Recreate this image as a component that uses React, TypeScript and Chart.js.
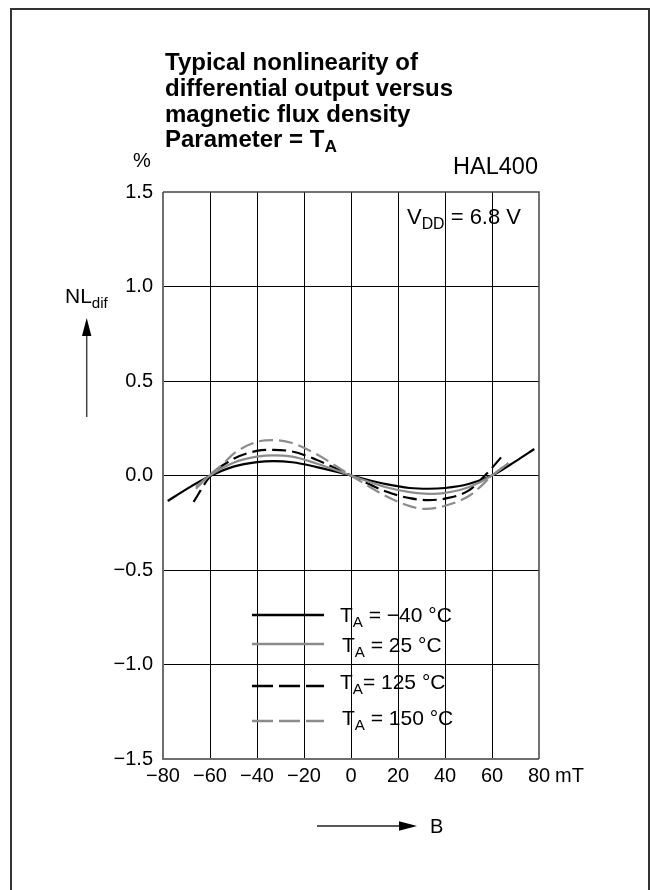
import React, { useEffect, useRef } from 'react';
import { Chart, registerables } from 'chart.js';

Chart.register(...registerables);

const FONT = '"Liberation Sans", Arial, Helvetica, sans-serif';

// ---- data ----
const X_MIN = -80;
const X_MAX = 80;
const X_STEP = 20;
const Y_MIN = -1.5;
const Y_MAX = 1.5;
const Y_STEP = 0.5;

const B_M40 = [-78, -70, -60, -50, -40, -33, -25, -15, 0, 15, 25, 33, 40, 50, 60, 70, 78];
const NL_M40 = [-0.135, -0.072, -0.003, 0.047, 0.071, 0.076, 0.07, 0.046, 0, -0.046, -0.066, -0.07, -0.066, -0.045, 0.0, 0.075, 0.14];

const B_25 = [-66, -60, -50, -40, -33, -25, -15, 0, 15, 25, 33, 40, 50, 60, 67];
const NL_25 = [-0.06, 0.0, 0.068, 0.1, 0.107, 0.1, 0.065, 0, -0.062, -0.088, -0.097, -0.092, -0.062, 0.0, 0.066];

const B_125 = [-67, -60, -50, -40, -33, -25, -15, 0, 15, 25, 33, 40, 50, 57, 60, 65.5];
const NL_125 = [-0.14, -0.005, 0.088, 0.13, 0.136, 0.127, 0.085, 0, -0.085, -0.12, -0.13, -0.122, -0.08, 0.0, 0.04, 0.12];

const B_150 = [-66, -60, -55, -50, -40, -33, -25, -15, 0, 15, 25, 32, 40, 50, 55, 60, 67];
const NL_150 = [-0.07, 0.005, 0.055, 0.115, 0.178, 0.187, 0.172, 0.115, 0, -0.11, -0.162, -0.177, -0.16, -0.11, -0.06, 0.0, 0.066];

const SERIES_LABELS = ['T_A = −40 °C', 'T_A = 25 °C', 'T_A= 125 °C', 'T_A = 150 °C'];

const BLACK = '#000000';
const GRAY = '#8c8c8c';

const toPts = (xs: number[], ys: number[]) => xs.map((x, i) => ({ x, y: ys[i] }));
const minus = (s: string) => s.replace('-', '\u2212');

type TxtProps = {
  x?: number;
  right?: number;
  baseline: number;
  size: number;
  bold?: boolean;
  children: React.ReactNode;
};

const Txt = ({ x, right, baseline, size, bold, children }: TxtProps) => {
  const style: React.CSSProperties = {
    position: 'absolute',
    top: baseline - 0.8465 * size,
    fontFamily: FONT,
    fontSize: size,
    fontWeight: bold ? 'bold' : 'normal',
    lineHeight: 1,
    whiteSpace: 'nowrap',
    color: '#000',
  };
  if (x !== undefined) style.left = x;
  if (right !== undefined) {
    style.right = 650 - right;
    style.textAlign = 'right';
  }
  return <div style={style}>{children}</div>;
};

const Sub = ({ children }: { children: React.ReactNode }) => (
  <span style={{ fontSize: '0.72em', verticalAlign: '-0.3em', lineHeight: 0 }}>{children}</span>
);

const decorations = {
  id: 'decorations',
  beforeDatasetsDraw(chart: any) {
    const { ctx, chartArea } = chart;
    const { left, right, top, bottom } = chartArea;
    ctx.save();
    // plot frame
    ctx.strokeStyle = '#6e6e6e';
    ctx.lineWidth = 2;
    ctx.beginPath();
    ctx.moveTo(left, top);
    ctx.lineTo(left, bottom);
    ctx.lineTo(right, bottom);
    ctx.stroke();
    ctx.strokeStyle = '#444444';
    ctx.lineWidth = 1.5;
    ctx.beginPath();
    ctx.moveTo(left, top);
    ctx.lineTo(right, top);
    ctx.lineTo(right, bottom);
    ctx.stroke();
    ctx.restore();
  },
  afterDraw(chart: any) {
    const { ctx } = chart;
    ctx.save();
    // outer page frame
    ctx.strokeStyle = '#333333';
    ctx.lineWidth = 2;
    ctx.beginPath();
    ctx.moveTo(11, 900);
    ctx.lineTo(11, 9);
    ctx.lineTo(649, 9);
    ctx.lineTo(649, 900);
    ctx.stroke();

    // vertical arrow (NL_dif)
    ctx.strokeStyle = '#444';
    ctx.lineWidth = 1.5;
    ctx.beginPath();
    ctx.moveTo(86.7, 417);
    ctx.lineTo(86.7, 330);
    ctx.stroke();
    ctx.fillStyle = '#000';
    ctx.beginPath();
    ctx.moveTo(86.7, 318);
    ctx.lineTo(82, 336);
    ctx.lineTo(91.4, 336);
    ctx.closePath();
    ctx.fill();

    // horizontal arrow (B)
    ctx.strokeStyle = '#222';
    ctx.beginPath();
    ctx.moveTo(317, 826);
    ctx.lineTo(405, 826);
    ctx.stroke();
    ctx.beginPath();
    ctx.moveTo(417, 826);
    ctx.lineTo(399, 821.3);
    ctx.lineTo(399, 830.7);
    ctx.closePath();
    ctx.fill();

    // legend samples
    const ys = [615, 644, 686, 721];
    const cols = [BLACK, GRAY, BLACK, GRAY];
    const dashes = [[], [], [21, 6], [21, 6]];
    ys.forEach((y, i) => {
      ctx.strokeStyle = cols[i];
      ctx.lineWidth = 2.5;
      ctx.setLineDash(dashes[i]);
      ctx.beginPath();
      ctx.moveTo(252, y);
      ctx.lineTo(324, y);
      ctx.stroke();
    });
    ctx.setLineDash([]);
    ctx.restore();
  },
};

export default function App() {
  const canvasRef = useRef<HTMLCanvasElement | null>(null);

  useEffect(() => {
    if (!canvasRef.current) return;
    const gridColor = (edgeA: number, edgeB: number) => (c: any) =>
      c.tick && (Math.abs(c.tick.value - edgeA) < 1e-9 || Math.abs(c.tick.value - edgeB) < 1e-9)
        ? 'rgba(0,0,0,0)'
        : '#000000';

    const chart = new Chart(canvasRef.current, {
      type: 'line',
      data: {
        datasets: [
          {
            label: SERIES_LABELS[3],
            data: toPts(B_150, NL_150),
            borderColor: GRAY,
            borderWidth: 2.2,
            borderDash: [14, 6],
            pointRadius: 0,
            cubicInterpolationMode: 'monotone',
            fill: false,
          },
          {
            label: SERIES_LABELS[1],
            data: toPts(B_25, NL_25),
            borderColor: GRAY,
            borderWidth: 2.2,
            pointRadius: 0,
            cubicInterpolationMode: 'monotone',
            fill: false,
          },
          {
            label: SERIES_LABELS[2],
            data: toPts(B_125, NL_125),
            borderColor: BLACK,
            borderWidth: 2.2,
            borderDash: [14, 6],
            pointRadius: 0,
            cubicInterpolationMode: 'monotone',
            fill: false,
          },
          {
            label: SERIES_LABELS[0],
            data: toPts(B_M40, NL_M40),
            borderColor: BLACK,
            borderWidth: 2.2,
            pointRadius: 0,
            cubicInterpolationMode: 'monotone',
            fill: false,
          },
        ],
      },
      options: {
        responsive: false,
        animation: false,
        maintainAspectRatio: false,
        layout: { padding: { left: 100, right: 111, top: 192, bottom: 91 } },
        plugins: {
          legend: { display: false },
          title: { display: false },
          tooltip: { enabled: false },
        },
        scales: {
          x: {
            type: 'linear',
            min: X_MIN,
            max: X_MAX,
            border: { display: false },
            grid: { color: gridColor(X_MIN, X_MAX), lineWidth: 1, drawTicks: false },
            ticks: {
              stepSize: X_STEP,
              padding: 5,
              color: '#000',
              font: { family: FONT, size: 20 },
              maxRotation: 0,
              autoSkip: false,
              callback: (v: any) => minus(String(v)),
            },
            afterFit: (s: any) => {
              s.height = 40;
            },
          },
          y: {
            type: 'linear',
            min: Y_MIN,
            max: Y_MAX,
            border: { display: false },
            grid: { color: gridColor(Y_MIN, Y_MAX), lineWidth: 1, drawTicks: false },
            ticks: {
              stepSize: Y_STEP,
              padding: 10,
              color: '#000',
              font: { family: FONT, size: 20 },
              autoSkip: false,
              callback: (v: any) => minus(Number(v).toFixed(1)),
            },
            afterFit: (s: any) => {
              s.width = 63;
            },
          },
        },
      },
      plugins: [decorations],
    });
    return () => chart.destroy();
  }, []);

  return (
    <div style={{ position: 'absolute', left: 0, top: 0, width: 650, height: 890, background: '#fff', overflow: 'hidden' }}>
      <canvas ref={canvasRef} width={650} height={890} style={{ position: 'absolute', left: 0, top: 0, width: 650, height: 890 }} />
      <Txt x={165} baseline={70} size={24} bold>Typical nonlinearity of</Txt>
      <Txt x={165} baseline={96} size={24} bold>differential output versus</Txt>
      <Txt x={165} baseline={122} size={24} bold>magnetic flux density</Txt>
      <Txt x={165} baseline={147} size={24} bold>Parameter = T<Sub>A</Sub></Txt>
      <Txt x={133} baseline={167} size={20}>%</Txt>
      <Txt right={538} baseline={175} size={23.5}>HAL400</Txt>
      <Txt x={407} baseline={225} size={22}>V<Sub>DD</Sub> = 6.8 V</Txt>
      <Txt x={65} baseline={303} size={21}>NL<Sub>dif</Sub></Txt>
      <Txt x={555} baseline={782} size={20}>mT</Txt>
      <Txt x={430} baseline={833} size={20}>B</Txt>
      <Txt x={340} baseline={622} size={21}>T<Sub>A</Sub> = −40 °C</Txt>
      <Txt x={342} baseline={652} size={21}>T<Sub>A</Sub> = 25 °C</Txt>
      <Txt x={340} baseline={689} size={21}>T<Sub>A</Sub>= 125 °C</Txt>
      <Txt x={342} baseline={725} size={21}>T<Sub>A</Sub> = 150 °C</Txt>
    </div>
  );
}
